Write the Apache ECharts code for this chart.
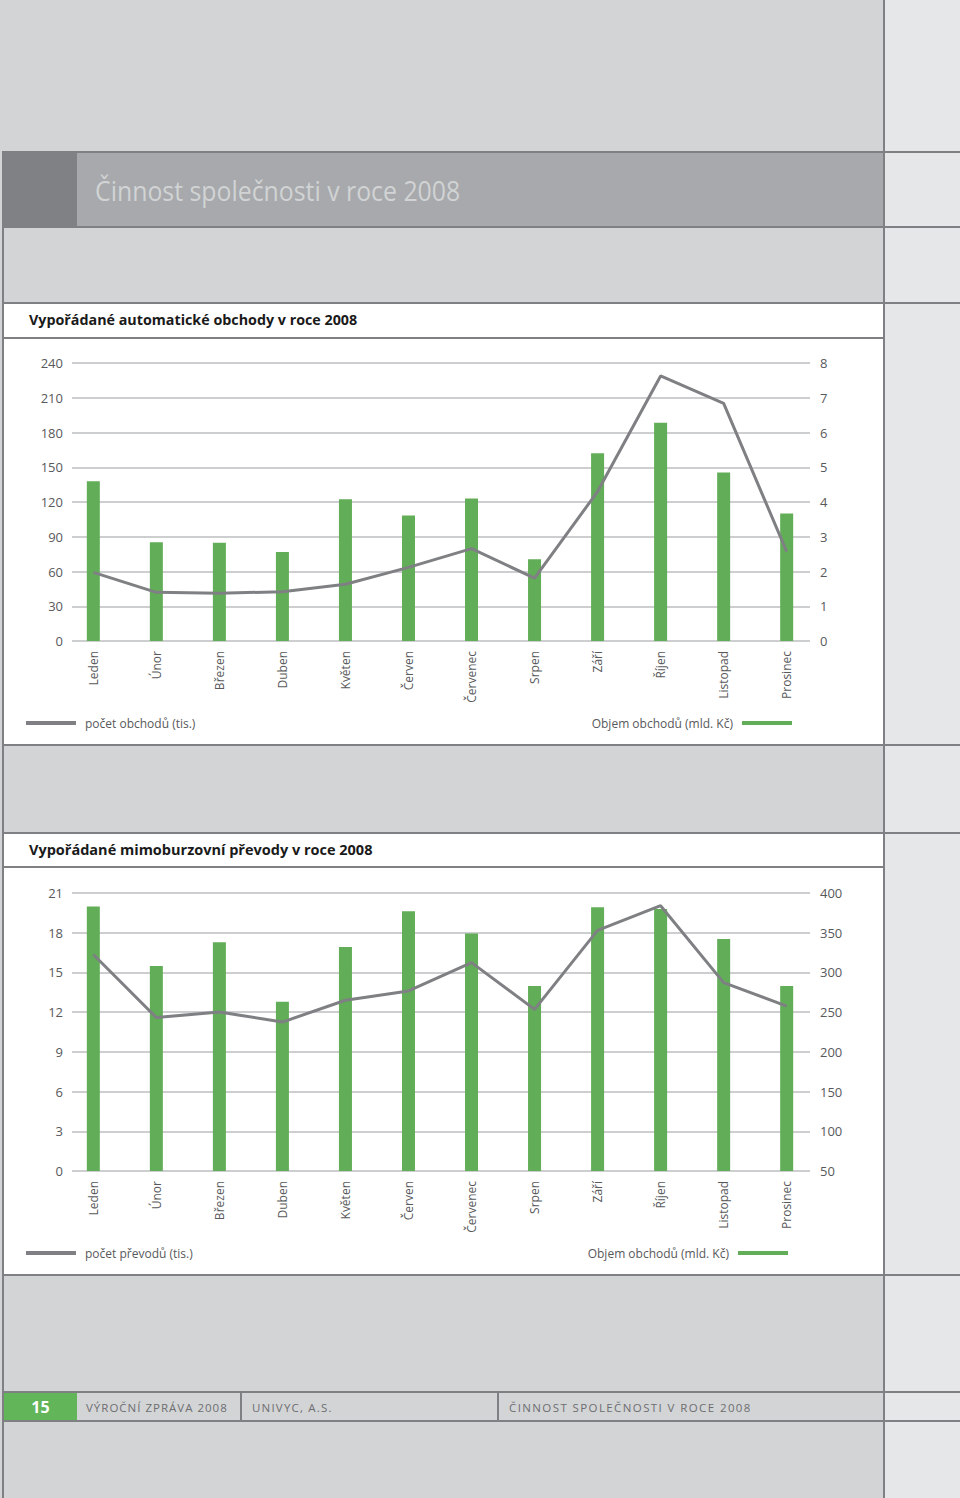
<!DOCTYPE html>
<html>
<head>
<meta charset="utf-8">
<title>Činnost společnosti v roce 2008</title>
<script src="https://cdn.jsdelivr.net/npm/echarts@6/dist/echarts.min.js"></script>
<style>
  html, body { margin: 0; padding: 0; }
  body {
    width: 960px; height: 1498px; position: relative; overflow: hidden;
    background: #d3d4d6; font-family: "Open Sans", sans-serif;
  }
  .box { position: absolute; }
  .hl { position: absolute; height: 2px; background: #7f8083; }
  .vl { position: absolute; width: 2px; background: #7f8083; }
  .head { position: absolute; left: 95px; top: 153px; height: 73px; line-height: 75px;
    font-size: 27px; color: #d1d3d4; transform: scaleX(0.92); transform-origin: left center; white-space: nowrap; }
  .sub { position: absolute; left: 29px; height: 34px; line-height: 34px; font-weight: bold;
    color: #1a1a1a; white-space: nowrap; }
  .foot { position: absolute; top: 1393px; height: 27px; line-height: 29px; font-size: 11.5px;
    letter-spacing: 1.2px; color: #6d6e71; white-space: nowrap; }
  #chart { position: absolute; left: 0; top: 0; width: 960px; height: 1498px; }
</style>
</head>
<body>
  <div class="box" style="left:885px;top:0;width:75px;height:1498px;background:#e6e7e8"></div>
  <div class="box" style="left:4px;top:153px;width:73px;height:73px;background:#808184"></div>
  <div class="box" style="left:77px;top:153px;width:806px;height:73px;background:#a7a9ac"></div>
  <div class="box" style="left:4px;top:303px;width:879px;height:441px;background:#ffffff"></div>
  <div class="box" style="left:4px;top:833px;width:879px;height:441px;background:#ffffff"></div>
  <div class="box" style="left:4px;top:1393px;width:73px;height:27px;background:#62b559"></div>

  <div class="hl" style="left:2px;width:958px;top:151px"></div>
  <div class="hl" style="left:2px;width:958px;top:226px"></div>
  <div class="hl" style="left:2px;width:958px;top:302px"></div>
  <div class="hl" style="left:2px;width:882px;top:337px"></div>
  <div class="hl" style="left:2px;width:958px;top:744px"></div>
  <div class="hl" style="left:2px;width:958px;top:832px"></div>
  <div class="hl" style="left:2px;width:882px;top:866px"></div>
  <div class="hl" style="left:2px;width:958px;top:1274px"></div>
  <div class="hl" style="left:2px;width:958px;top:1391px"></div>
  <div class="hl" style="left:2px;width:958px;top:1420px"></div>
  <div class="vl" style="left:883px;top:0;height:1498px"></div>
  <div class="vl" style="left:2px;top:151px;height:1347px"></div>
  <div class="vl" style="left:240px;top:1392px;height:29px;width:1.5px"></div>
  <div class="vl" style="left:497px;top:1392px;height:29px;width:1.5px"></div>

  <div class="head">Činnost společnosti v roce 2008</div>
  <div class="sub" style="top:303px;font-size:14.3px">Vypořádané automatické obchody v roce 2008</div>
  <div class="sub" style="top:833px;font-size:14.5px">Vypořádané mimoburzovní převody v roce 2008</div>

  <div class="foot" style="left:4px;width:73px;text-align:center;letter-spacing:0;font-size:16px;font-weight:bold;color:#ffffff">15</div>
  <div class="foot" style="left:86px;letter-spacing:1px">VÝROČNÍ ZPRÁVA 2008</div>
  <div class="foot" style="left:252px">UNIVYC, A.S.</div>
  <div class="foot" style="left:509px;letter-spacing:1.4px">ČINNOST SPOLEČNOSTI V ROCE 2008</div>

  <div id="chart"></div>

<script>
// měsíce na ose x
const months = ["Leden", "Únor", "Březen", "Duben", "Květen", "Červen",
  "Červenec", "Srpen", "Září", "Říjen", "Listopad", "Prosinec"];

// graf 1 – automatické obchody
const pocetObchodu = [59.3, 42.0, 41.2, 42.6, 49.0, 63.6, 79.7, 54.2, 129.0, 228.8, 205.2, 77.1];
const objemObchodu = [4.60, 2.84, 2.83, 2.56, 4.08, 3.61, 4.10, 2.35, 5.40, 6.28, 4.85, 3.67];
const ticksLeft1 = { min: 0, max: 240, step: 30 };
const ticksRight1 = { min: 0, max: 8, step: 1 };

// graf 2 – mimoburzovní převody
const pocetPrevodu = [16.35, 11.59, 12.01, 11.25, 12.9, 13.6, 15.74, 12.21, 18.18, 20.04, 14.23, 12.46];
const objemPrevodu = [383, 308, 338, 263, 332, 377, 349, 283, 382, 380, 342, 283];
const ticksLeft2 = { min: 0, max: 21, step: 3 };
const ticksRight2 = { min: 50, max: 400, step: 50 };

const GRAY = "#7f8083";
const GREEN = "#62ad57";
const TEXT = "#58595b";
const FONT = '"Open Sans", sans-serif';

// mřížka grafu (čáry) a vnitřní oblast sloupců jsou posunuté jako v originále
const gridLines = (top) => ({ left: 72, top, width: 738, height: 278 });
const gridBars = (top) => ({ left: 61.8, top, width: 756.4, height: 278 });

function valueAxis(gridIndex, position, t, show) {
  return {
    type: "value",
    gridIndex,
    position,
    min: t.min,
    max: t.max,
    interval: t.step,
    show,
    axisLine: { show: false },
    axisTick: { show: false },
    axisLabel: {
      show,
      margin: position === "left" ? 9 : 10,
      fontSize: 13,
      fontFamily: FONT,
      color: TEXT,
    },
    splitLine: {
      show: show && position === "left",
      lineStyle: { color: "#bcbec0", width: 1.5 },
    },
  };
}

function monthAxis(gridIndex) {
  return {
    type: "category",
    gridIndex,
    data: months,
    axisLine: { show: false },
    axisTick: { show: false },
    axisLabel: {
      interval: 0,
      rotate: 90,
      margin: 10,
      fontSize: 12,
      fontFamily: FONT,
      color: TEXT,
    },
    splitLine: { show: false },
  };
}

function legend(name, top, side) {
  const base = {
    top,
    padding: 0,
    itemWidth: 50,
    itemHeight: 4,
    selectedMode: false,
    data: [{ name, icon: "rect" }],
    textStyle: {
      fontSize: 12,
      fontFamily: FONT,
      color: TEXT,
      lineHeight: 16,
    },
  };
  if (side === "left") {
    base.left = 26;
    base.textStyle.padding = [0, 0, 0, 4];
  } else {
    base.right = side;
    base.align = "right";
    base.textStyle.padding = [0, 4, 0, 0];
  }
  return base;
}

const chart = echarts.init(document.getElementById("chart"), null, { renderer: "svg" });

chart.setOption({
  backgroundColor: "transparent",
  animation: false,
  grid: [gridLines(363), gridBars(363), gridLines(893), gridBars(893)],
  xAxis: [
    { type: "value", gridIndex: 0, show: false, min: 0, max: 1 },
    monthAxis(1),
    { type: "value", gridIndex: 2, show: false, min: 0, max: 1 },
    monthAxis(3),
  ],
  yAxis: [
    valueAxis(0, "left", ticksLeft1, true),
    valueAxis(0, "right", ticksRight1, true),
    valueAxis(1, "left", ticksLeft1, false),
    valueAxis(1, "right", ticksRight1, false),
    valueAxis(2, "left", ticksLeft2, true),
    valueAxis(2, "right", ticksRight2, true),
    valueAxis(3, "left", ticksLeft2, false),
    valueAxis(3, "right", ticksRight2, false),
  ],
  legend: [
    legend("počet obchodů (tis.)", 715, "left"),
    legend("Objem obchodů (mld. Kč)", 715, 168),
    legend("počet převodů (tis.)", 1245, "left"),
    legend("Objem obchodů (mld. Kč)", 1245, 172),
  ],
  series: [
    {
      name: "Objem obchodů (mld. Kč)",
      type: "bar",
      xAxisIndex: 1,
      yAxisIndex: 3,
      data: objemObchodu,
      barWidth: 13,
      itemStyle: { color: GREEN },
    },
    {
      name: "počet obchodů (tis.)",
      type: "line",
      xAxisIndex: 1,
      yAxisIndex: 2,
      data: pocetObchodu,
      symbol: "none",
      lineStyle: { color: GRAY, width: 3 },
      itemStyle: { color: GRAY },
    },
    {
      name: "Objem obchodů (mld. Kč)",
      type: "bar",
      xAxisIndex: 3,
      yAxisIndex: 7,
      data: objemPrevodu,
      barWidth: 13,
      clip: true,
      itemStyle: { color: GREEN },
    },
    {
      name: "počet převodů (tis.)",
      type: "line",
      xAxisIndex: 3,
      yAxisIndex: 6,
      data: pocetPrevodu,
      symbol: "none",
      lineStyle: { color: GRAY, width: 3 },
      itemStyle: { color: GRAY },
    },
  ],
});
</script>
</body>
</html>
